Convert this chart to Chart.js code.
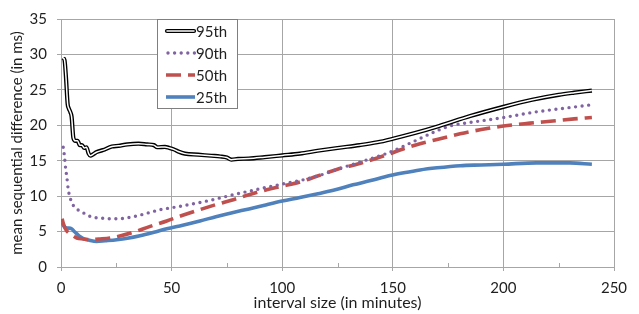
<!DOCTYPE html>
<html>
<head>
<meta charset="utf-8">
<script src="https://cdn.jsdelivr.net/npm/chart.js@4/dist/chart.umd.min.js"></script>
<style>
html,body{margin:0;padding:0;background:#fff;}
#c{display:block;}
</style>
</head>
<body>
<canvas id="c" width="639" height="314"></canvas>
<script>
// ---- data ----
const xTicks = [0, 50, 100, 150, 200, 250];
const yTicks = [0, 5, 10, 15, 20, 25, 30, 35];
const seriesNames = ['95th', '90th', '50th', '25th'];

const p95x = [1,1.6,2.2,3.0,3.5,4.3,4.8,5.6,6.5,7.5,8.5,9.5,10.5,11.5,12.5,13.3,14.5,16,19,23,26,30,35,39,42,43.5,47,49,51,53,56,62,68,72,75,77,80,85,92,100,108,116,125,135,143,150,160,171,185,200,213,225,232,240];
const p95y = [29.5,29.2,27,23,22.4,21.8,21.2,18.2,17.8,17.8,17.2,17.2,16.8,16.9,16.0,15.7,15.9,16.2,16.5,17.0,17.1,17.3,17.4,17.3,17.2,16.9,16.95,16.8,16.6,16.3,16.0,15.85,15.7,15.6,15.45,15.15,15.25,15.3,15.5,15.75,16.0,16.4,16.8,17.2,17.6,18.1,18.9,19.9,21.3,22.6,23.6,24.3,24.6,24.9];

const p90x = [1,1.5,2.1,2.6,3.3,4.1,5,6.3,8,9.3,12,14.6,18,21.4,25,28.2,31,34.2,40.2,45,50.8,56,62.8,70,77.9,85,93,100,108,115.6,125,135,147,158,169.8,177,185,200,215,230,240];
const p90y = [16.9,15.8,13.9,12.8,10.9,9.8,9.0,8.4,8.0,7.8,7.3,7.0,6.9,6.8,6.8,6.85,7.0,7.2,7.7,8.1,8.4,8.7,9.1,9.6,10.2,10.7,11.25,11.7,12.2,12.8,13.8,14.8,16.0,17.5,19.2,20.0,20.4,21.1,21.9,22.5,22.9];

const p50x = [0.5,1,1.8,2.6,4,5.5,7.1,10,13.1,17,22.2,27,32.7,40,47.8,55,62.8,70,77.9,85,93,100,108,115.6,125,135,147,155,162.3,170,180.4,190,200,212,222.4,232,240];
const p50y = [6.8,6.2,5.5,5.1,4.7,4.4,4.1,3.95,3.85,3.95,4.1,4.4,4.9,5.7,6.5,7.3,8.1,8.8,9.5,10.2,10.9,11.4,12.0,12.8,13.8,14.6,15.8,16.7,17.4,18.0,18.8,19.4,19.9,20.3,20.6,20.9,21.1];

const p25x = [0.3,1,1.8,3,4.8,6,7.1,8.5,10.1,12.5,16.1,20,25.2,30,35.7,42,47.8,55,62.8,70,77.9,85,93,100,108,115.6,124,132,140,148.7,155,162.3,170,180.4,190,200,215,230,240];
const p25y = [6.3,5.9,5.6,5.5,5.4,5.0,4.7,4.3,4.0,3.8,3.6,3.7,3.85,4.05,4.4,4.9,5.4,5.9,6.5,7.1,7.7,8.2,8.8,9.3,9.8,10.3,10.9,11.6,12.2,12.9,13.3,13.7,14.0,14.3,14.4,14.5,14.7,14.7,14.5];

const xTitle = 'interval size (in minutes)';
const yTitle = 'mean sequential difference (in ms)';

// ---- build ----
const pts = (xs, ys) => xs.map((x, i) => ({x: x, y: ys[i]}));
const FONT = 'Lato, "Liberation Sans", sans-serif';
const GRID = '#a6a6a6';
const TXT = '#1f1f1f';

const styles = [
  {color: '#000000', width: 4.2, dash: [], cap: 'butt'},
  {color: '#8064a2', width: 3.4, dash: [0, 6.6], cap: 'round'},
  {color: '#c0504d', width: 3.6, dash: [15, 7], cap: 'butt'},
  {color: '#4f81bd', width: 3.6, dash: [], cap: 'butt'}
];
const seriesData = [pts(p95x, p95y), pts(p90x, p90y), pts(p50x, p50y), pts(p25x, p25y)];

// Chart.js draws the first dataset on top
const datasets = [];
datasets.push({
  label: '95th-inner', data: seriesData[0],
  borderColor: '#fff', borderWidth: 1.5, pointRadius: 0,
  cubicInterpolationMode: 'monotone', fill: false, borderJoinStyle: 'round'
});
datasets.push({
  label: seriesNames[0], data: seriesData[0],
  borderColor: '#000', borderWidth: 4.2, pointRadius: 0,
  cubicInterpolationMode: 'monotone', fill: false, borderJoinStyle: 'round'
});
[1, 2, 3].forEach(i => {
  datasets.push({
    label: seriesNames[i], data: seriesData[i],
    borderColor: styles[i].color, borderWidth: styles[i].width,
    borderDash: styles[i].dash, borderCapStyle: styles[i].cap,
    pointRadius: 0, cubicInterpolationMode: 'monotone', fill: false
  });
});

const extras = {
  id: 'extras',
  afterDatasetsDraw(chart) {
    const ctx = chart.ctx;
    const xs = chart.scales.x, ys = chart.scales.y;
    ctx.save();
    // minor tick marks on the x axis (inside)
    ctx.strokeStyle = GRID; ctx.lineWidth = 1;
    for (let v = 25; v < 250; v += 50) {
      const px = Math.round(xs.getPixelForValue(v)) + 0.5;
      const py = ys.getPixelForValue(0);
      ctx.beginPath(); ctx.moveTo(px, py); ctx.lineTo(px, py - 4); ctx.stroke();
    }
    // legend box
    const bx = 157.5, by = 19.5, bw = 80, bh = 89;
    ctx.fillStyle = '#fff'; ctx.fillRect(bx, by, bw, bh);
    ctx.strokeStyle = '#7f7f7f'; ctx.lineWidth = 1; ctx.strokeRect(bx, by, bw, bh);
    const rows = [31, 53, 75, 97];
    ctx.font = '15px ' + FONT; ctx.textBaseline = 'middle';
    rows.forEach((ry, i) => {
      const x0 = 166, x1 = 195;
      ctx.save();
      if (i === 0) {
        ctx.lineCap = 'round';
        ctx.strokeStyle = '#000'; ctx.lineWidth = 4.2;
        ctx.beginPath(); ctx.moveTo(x0 + 1, ry); ctx.lineTo(x1 - 1, ry); ctx.stroke();
        ctx.strokeStyle = '#fff'; ctx.lineWidth = 1.5;
        ctx.beginPath(); ctx.moveTo(x0 + 1, ry); ctx.lineTo(x1 - 1, ry); ctx.stroke();
      } else {
        const s = styles[i];
        ctx.strokeStyle = s.color; ctx.lineWidth = s.width; ctx.lineCap = s.cap;
        ctx.setLineDash(s.dash);
        ctx.beginPath();
        ctx.moveTo(i === 1 ? x0 + 2 : x0, ry); ctx.lineTo(x1, ry); ctx.stroke();
      }
      ctx.restore();
      ctx.fillStyle = TXT;
      ctx.fillText(seriesNames[i], 196, ry + 1);
    });
    ctx.restore();
  }
};

new Chart(document.getElementById('c'), {
  type: 'line',
  data: {datasets: datasets},
  options: {
    responsive: false, animation: false, devicePixelRatio: 1,
    layout: {padding: {top: 15, right: 25, left: 0, bottom: 0}},
    plugins: {legend: {display: false}, tooltip: {enabled: false}},
    scales: {
      x: {
        type: 'linear', min: 0, max: 250,
        afterFit: s => { s.height = 47; },
        afterBuildTicks: s => { s.ticks = xTicks.map(v => ({value: v})); },
        ticks: {color: TXT, font: {family: FONT, size: 15}, padding: 8, maxRotation: 0},
        grid: {color: GRID, tickLength: 4, tickColor: GRID},
        border: {color: GRID},
        title: {display: true, text: xTitle, color: TXT, font: {family: FONT, size: 16}, padding: {top: 0, bottom: 2}}
      },
      y: {
        min: 0, max: 35,
        afterFit: s => { s.width = 61; },
        afterBuildTicks: s => { s.ticks = yTicks.map(v => ({value: v})); },
        ticks: {color: TXT, font: {family: FONT, size: 15}, padding: 10},
        grid: {color: GRID, tickLength: 4, tickColor: GRID},
        border: {color: GRID},
        title: {display: true, text: yTitle, color: TXT, font: {family: FONT, size: 15}, padding: {top: 8, bottom: 0}}
      }
    }
  },
  plugins: [extras]
});
</script>
</body>
</html>
